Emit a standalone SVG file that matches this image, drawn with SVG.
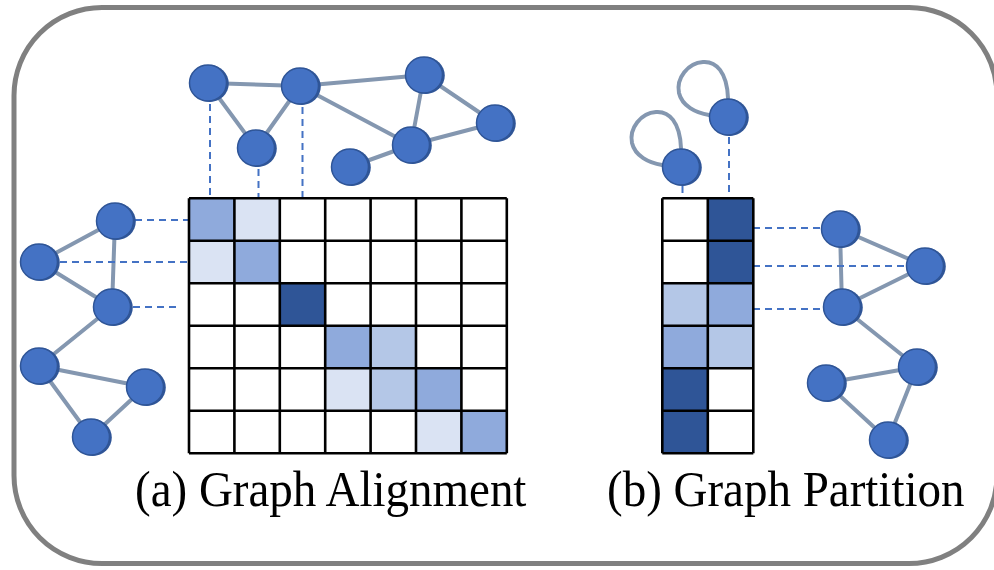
<svg xmlns="http://www.w3.org/2000/svg" xmlns:xlink="http://www.w3.org/1999/xlink" width="994" height="570" viewBox="0 0 994 570">
<style>
.frame{fill:none;stroke:#808080;stroke-width:5}
.edge{fill:none;stroke:#8497B0;stroke-width:4;stroke-linecap:round}
.dash{fill:none;stroke:#4472C4;stroke-width:2;stroke-dasharray:7 5}
.grid{fill:none;stroke:#000;stroke-width:2.6}
.c0{fill:#FFFFFF}.c1{fill:#DAE3F3}.c2{fill:#B4C7E7}.c3{fill:#8FAADC}.c4{fill:#2F5597}
.lbl{font-family:"Liberation Serif","Times New Roman",serif;font-size:47px;fill:#000}
</style>
<defs>
<g id="nd">
<ellipse cx="1.8" cy="0.5" rx="19" ry="18.5" fill="#2F5597"/>
<ellipse cx="0" cy="0" rx="18.5" ry="18" fill="#4472C4" stroke="#2F5597" stroke-width="1.5"/>
</g>
</defs>
<rect class="frame" x="14" y="7.5" width="983" height="556" rx="88" ry="88"/>

<g id="connectors">
<line class="edge" x1="208" y1="83" x2="300" y2="86"/>
<line class="edge" x1="208" y1="83" x2="256" y2="148"/>
<line class="edge" x1="256" y1="148" x2="300" y2="86"/>
<line class="edge" x1="300" y1="86" x2="424" y2="75"/>
<line class="edge" x1="300" y1="86" x2="411" y2="145"/>
<line class="edge" x1="424" y1="75" x2="411" y2="145"/>
<line class="edge" x1="424" y1="75" x2="495" y2="123"/>
<line class="edge" x1="411" y1="145" x2="495" y2="123"/>
<line class="edge" x1="350" y1="167" x2="411" y2="145"/>
<line class="edge" x1="115" y1="221" x2="39" y2="262"/>
<line class="edge" x1="115" y1="221" x2="112" y2="307"/>
<line class="edge" x1="39" y1="262" x2="112" y2="307"/>
<line class="edge" x1="112" y1="307" x2="39" y2="366"/>
<line class="edge" x1="39" y1="366" x2="145" y2="387"/>
<line class="edge" x1="39" y1="366" x2="91" y2="437"/>
<line class="edge" x1="145" y1="387" x2="91" y2="437"/>
<line class="edge" x1="840" y1="229" x2="925" y2="266"/>
<line class="edge" x1="840" y1="229" x2="842" y2="307"/>
<line class="edge" x1="925" y1="266" x2="842" y2="307"/>
<line class="edge" x1="842" y1="307" x2="917" y2="367"/>
<line class="edge" x1="917" y1="367" x2="826" y2="383"/>
<line class="edge" x1="826" y1="383" x2="888" y2="440"/>
<line class="edge" x1="917" y1="367" x2="888" y2="440"/>
<path class="edge" d="M728 98 C727 72 716 61 703 62 C688 63 676 78 679 93 C682 106 696 113 709 115"/>
<path class="edge" d="M681 148 C680 122 669 111 656 112 C641 113 629 128 632 143 C635 156 649 163 662 165"/>
<line class="dash" x1="210" y1="104" x2="210" y2="198"/>
<line class="dash" x1="258.5" y1="169" x2="258.5" y2="198"/>
<line class="dash" x1="302.5" y1="107" x2="302.5" y2="198"/>
<line class="dash" x1="135" y1="220" x2="189" y2="220"/>
<line class="dash" x1="60" y1="262" x2="189" y2="262"/>
<line class="dash" x1="133" y1="307" x2="181" y2="307"/>
<line class="dash" x1="729" y1="137" x2="729" y2="198"/>
<line class="dash" x1="682.5" y1="186" x2="682.5" y2="198"/>
<line class="dash" x1="753" y1="228" x2="820" y2="228"/>
<line class="dash" x1="753" y1="266" x2="905" y2="266"/>
<line class="dash" x1="753" y1="309" x2="822" y2="309"/>
</g>

<g id="matrix-a">
<rect class="c3" x="189" y="198.3" width="45.4" height="42.5"/>
<rect class="c1" x="234.4" y="198.3" width="45.4" height="42.5"/>
<rect class="c1" x="189" y="240.8" width="45.4" height="42.5"/>
<rect class="c3" x="234.4" y="240.8" width="45.4" height="42.5"/>
<rect class="c4" x="279.8" y="283.3" width="45.4" height="42.5"/>
<rect class="c3" x="325.2" y="325.8" width="45.4" height="42.5"/>
<rect class="c2" x="370.6" y="325.8" width="45.4" height="42.5"/>
<rect class="c1" x="325.2" y="368.3" width="45.4" height="42.5"/>
<rect class="c2" x="370.6" y="368.3" width="45.4" height="42.5"/>
<rect class="c3" x="416" y="368.3" width="45.4" height="42.5"/>
<rect class="c1" x="416" y="410.8" width="45.4" height="42.5"/>
<rect class="c3" x="461.4" y="410.8" width="45.4" height="42.5"/>
<path class="grid" d="M189 198.3H506.8M189 240.8H506.8M189 283.3H506.8M189 325.8H506.8M189 368.3H506.8M189 410.8H506.8M189 453.3H506.8M189 198.3V453.3M234.4 198.3V453.3M279.8 198.3V453.3M325.2 198.3V453.3M370.6 198.3V453.3M416 198.3V453.3M461.4 198.3V453.3M506.8 198.3V453.3"/>
</g>

<g id="matrix-b">
<rect class="c4" x="707.8" y="198.3" width="45.5" height="42.5"/>
<rect class="c4" x="707.8" y="240.8" width="45.5" height="42.5"/>
<rect class="c2" x="662.3" y="283.3" width="45.5" height="42.5"/>
<rect class="c3" x="707.8" y="283.3" width="45.5" height="42.5"/>
<rect class="c3" x="662.3" y="325.8" width="45.5" height="42.5"/>
<rect class="c2" x="707.8" y="325.8" width="45.5" height="42.5"/>
<rect class="c4" x="662.3" y="368.3" width="45.5" height="42.5"/>
<rect class="c4" x="662.3" y="410.8" width="45.5" height="42.5"/>
<path class="grid" d="M662.3 198.3H753.3M662.3 240.8H753.3M662.3 283.3H753.3M662.3 325.8H753.3M662.3 368.3H753.3M662.3 410.8H753.3M662.3 453.3H753.3M662.3 198.3V453.3M707.8 198.3V453.3M753.3 198.3V453.3"/>
</g>

<g id="top-graph">
<use id="t1" xlink:href="#nd" x="208" y="83"/>
<use id="t2" xlink:href="#nd" x="300" y="86"/>
<use id="t3" xlink:href="#nd" x="256" y="148"/>
<use id="t4" xlink:href="#nd" x="424" y="75"/>
<use id="t5" xlink:href="#nd" x="495" y="123"/>
<use id="t6" xlink:href="#nd" x="411" y="145"/>
<use id="t7" xlink:href="#nd" x="350" y="167"/>
</g>
<g id="left-graph">
<use id="l1" xlink:href="#nd" x="115" y="221"/>
<use id="l2" xlink:href="#nd" x="39" y="262"/>
<use id="l3" xlink:href="#nd" x="112" y="307"/>
<use id="l4" xlink:href="#nd" x="39" y="366"/>
<use id="l5" xlink:href="#nd" x="145" y="387"/>
<use id="l6" xlink:href="#nd" x="91" y="437"/>
</g>
<g id="loop-nodes">
<use id="p1" xlink:href="#nd" x="728" y="117"/>
<use id="p2" xlink:href="#nd" x="681" y="167"/>
</g>
<g id="right-graph">
<use id="r1" xlink:href="#nd" x="840" y="229"/>
<use id="r2" xlink:href="#nd" x="925" y="266"/>
<use id="r3" xlink:href="#nd" x="842" y="307"/>
<use id="r4" xlink:href="#nd" x="917" y="367"/>
<use id="r5" xlink:href="#nd" x="826" y="383"/>
<use id="r6" xlink:href="#nd" x="888" y="440"/>
</g>

<g id="labels">
<text class="lbl" transform="translate(135 506) scale(1 1.07)">(a) Graph Alignment</text>
<text class="lbl" transform="translate(607 506) scale(1 1.07)">(b) Graph Partition</text>
</g>
</svg>
